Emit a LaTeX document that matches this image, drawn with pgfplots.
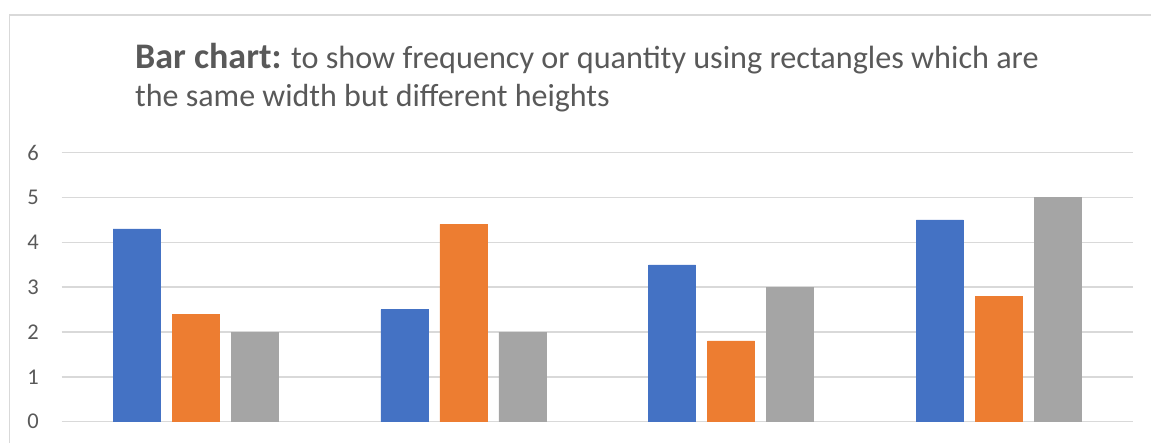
\documentclass[border=0pt]{standalone}
\usepackage{fontspec}
\setmainfont{Carlito}
\usepackage{pgfplots}
\pgfplotsset{compat=1.18}

\definecolor{xblue}{HTML}{4472C4}
\definecolor{xorange}{HTML}{ED7D31}
\definecolor{xgray}{HTML}{A5A5A5}
\definecolor{xtext}{HTML}{595959}
\definecolor{xgrid}{HTML}{D9D9D9}

\begin{document}
\begin{tikzpicture}[x=1pt,y=1pt]
  \useasboundingbox (0,0) rectangle (1151,443);
  % chart frame (only top and left edges fall inside the crop)
  \draw[xgrid, line width=1.5pt] (9.5,-20) -- (9.5,428) -- (1180,428);
  % title, two lines, left aligned
  \node[anchor=base west, inner sep=0pt, text=xtext,
        font=\fontsize{32.2}{37.7}\selectfont] at (135,374)
    {{\fontsize{36}{37.7}\selectfont\bfseries Bar chart:} to show frequency or quantity using rectangles which are};
  \node[anchor=base west, inner sep=0pt, text=xtext,
        font=\fontsize{32}{37.7}\selectfont] at (135,336.3)
    {the same width but different heights};
  \begin{axis}[
      at={(61.7pt,21.3pt)}, anchor=south west,
      scale only axis, width=1071pt, height=269pt,
      xmin=-0.5, xmax=3.5, ymin=0, ymax=6,
      axis line style={draw=none},
      ymajorgrids, grid style={xgrid, line width=1.5pt},
      ytick={0,1,...,6}, xtick=\empty,
      yticklabel={\pgfmathprintnumber{\tick}},
      tick label style={font=\fontsize{22.5}{26}\selectfont},
      yticklabel style={anchor=east, inner sep=0pt, xshift=-22.7pt,
        text=xtext},
      /pgf/number format/assume math mode=true,
      major tick length=0pt,
      ybar, bar width=0.1755,
      clip=false]
    \addplot[fill=xblue, draw=xblue, bar shift=-0.2204]
      coordinates {(0,4.3) (1,2.5) (2,3.5) (3,4.5)};
    \addplot[fill=xorange, draw=xorange, bar shift=0]
      coordinates {(0,2.4) (1,4.4) (2,1.8) (3,2.8)};
    \addplot[fill=xgray, draw=xgray, bar shift=0.2204]
      coordinates {(0,2.0) (1,2.0) (2,3.0) (3,5.0)};
  \end{axis}
\end{tikzpicture}
\end{document}
